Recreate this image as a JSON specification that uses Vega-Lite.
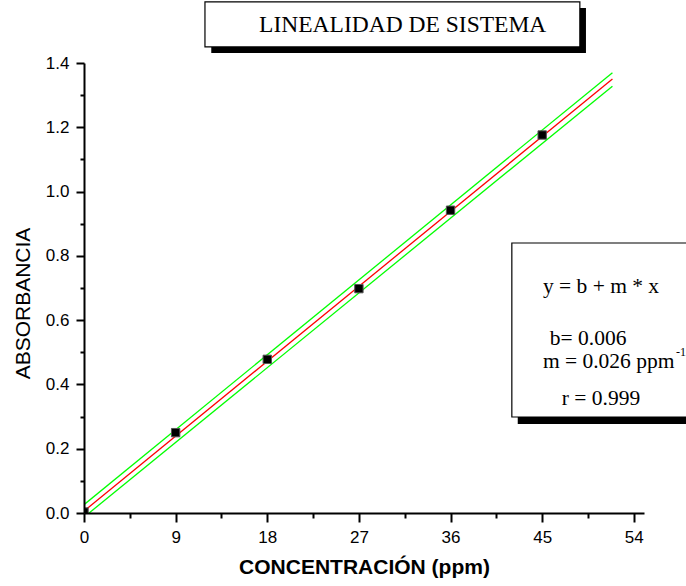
{
  "$schema": "https://vega.github.io/schema/vega-lite/v6.json",
  "width": 560,
  "height": 450,
  "autosize": "none",
  "padding": {"left": 84, "top": 63, "right": 42, "bottom": 73},
  "background": "white",
  "config": {"view": {"stroke": null}, "font": "Liberation Sans"},
  "datasets": {
    "points": [
      {"conc": 0, "abs": 0.003},
      {"conc": 9, "abs": 0.25},
      {"conc": 18, "abs": 0.478},
      {"conc": 27, "abs": 0.698},
      {"conc": 36, "abs": 0.942},
      {"conc": 45, "abs": 1.176}
    ],
    "lines": [
      {"conc": 0, "abs": 0.026, "band": "upper"},
      {"conc": 51.9, "abs": 1.37, "band": "upper"},
      {"conc": 0.5, "abs": 0.0, "band": "lower"},
      {"conc": 51.9, "abs": 1.328, "band": "lower"},
      {"conc": 0, "abs": 0.006, "band": "fit"},
      {"conc": 51.9, "abs": 1.35, "band": "fit"}
    ],
    "shadows": [
      {"x1": 12.5, "x2": 49.3, "y1": 1.571, "y2": 1.431},
      {"x1": 42.6, "x2": 62, "y1": 0.82, "y2": 0.277}
    ],
    "boxes": [
      {"x1": 11.88, "x2": 48.7, "y1": 1.59, "y2": 1.45},
      {"x1": 42.02, "x2": 62, "y1": 0.84, "y2": 0.2987}
    ],
    "title": [{"label": "LINEALIDAD DE SISTEMA", "x": 31.3, "y": 1.4966}],
    "legend": [
      {"label": "y = b + m * x", "x": 45.07, "y": 0.684},
      {"label": "b= 0.006", "x": 45.75, "y": 0.523},
      {"label": "m = 0.026 ppm", "x": 45.07, "y": 0.451},
      {"label": "r = 0.999", "x": 46.93, "y": 0.336}
    ],
    "sup": [{"label": "-1", "x": 58.15, "y": 0.487}]
  },
  "layer": [
    {
      "data": {"name": "lines"},
      "mark": {"type": "line", "strokeWidth": 1.3, "clip": true},
      "encoding": {
        "x": {
          "field": "conc", "type": "quantitative",
          "scale": {"domain": [0, 55], "nice": false, "zero": false},
          "axis": {
            "orient": "bottom",
            "values": [0, 9, 18, 27, 36, 45, 54],
            "title": "CONCENTRACIÓN (ppm)",
            "titleFont": "Liberation Sans", "titleFontSize": 21, "titleFontWeight": "bold",
            "titleColor": "black", "titlePadding": 11,
            "labelFont": "Liberation Sans", "labelFontSize": 17, "labelColor": "black",
            "labelPadding": 7, "labelFlush": false,
            "tickSize": 9, "tickWidth": 2, "tickColor": "black",
            "domainColor": "black", "domainWidth": 2,
            "grid": false, "zindex": 1
          }
        },
        "y": {
          "field": "abs", "type": "quantitative",
          "scale": {"domain": [0, 1.4], "nice": false, "zero": false},
          "axis": {
            "orient": "left",
            "values": [0, 0.2, 0.4, 0.6, 0.8, 1.0, 1.2, 1.4],
            "format": ".1f",
            "title": "ABSORBANCIA",
            "titleFont": "Liberation Sans", "titleFontSize": 21, "titleFontWeight": "normal",
            "titleColor": "black", "titlePadding": 12, "titleY": 240,
            "labelFont": "Liberation Sans", "labelFontSize": 17, "labelColor": "black",
            "labelPadding": 7, "labelFlush": false,
            "tickSize": 8, "tickWidth": 2, "tickColor": "black",
            "domainColor": "black", "domainWidth": 2,
            "grid": false, "zindex": 1
          }
        },
        "detail": {"field": "band"},
        "color": {
          "field": "band", "type": "nominal",
          "scale": {"domain": ["upper", "lower", "fit"], "range": ["#00ff00", "#00ff00", "#ff0000"]},
          "legend": null
        }
      }
    },
    {
      "data": {"name": "points"},
      "mark": {"type": "point", "shape": "square", "filled": true, "size": 70, "color": "black", "stroke": "#555555", "strokeWidth": 1, "opacity": 1, "clip": true},
      "encoding": {
        "x": {
          "field": "conc", "type": "quantitative",
          "axis": {
            "orient": "bottom",
            "values": [4.5, 13.5, 22.5, 31.5, 40.5, 49.5],
            "labels": false, "domain": false, "title": null,
            "tickSize": 5, "tickWidth": 2, "tickColor": "black",
            "grid": false, "zindex": 1
          }
        },
        "y": {
          "field": "abs", "type": "quantitative",
          "axis": {
            "orient": "left",
            "values": [0.1, 0.3, 0.5, 0.7, 0.9, 1.1, 1.3],
            "labels": false, "domain": false, "title": null,
            "tickSize": 4, "tickWidth": 2, "tickColor": "black",
            "grid": false, "zindex": 1
          }
        }
      }
    },
    {
      "data": {"name": "shadows"},
      "mark": {"type": "rect", "fill": "black", "clip": false},
      "encoding": {
        "x": {"field": "x1", "type": "quantitative", "axis": null},
        "x2": {"field": "x2"},
        "y": {"field": "y1", "type": "quantitative", "axis": null},
        "y2": {"field": "y2"}
      }
    },
    {
      "data": {"name": "boxes"},
      "mark": {"type": "rect", "fill": "white", "stroke": "black", "strokeWidth": 1.2, "clip": false},
      "encoding": {
        "x": {"field": "x1", "type": "quantitative", "axis": null},
        "x2": {"field": "x2"},
        "y": {"field": "y1", "type": "quantitative", "axis": null},
        "y2": {"field": "y2"}
      }
    },
    {
      "data": {"name": "title"},
      "mark": {"type": "text", "font": "Liberation Serif", "fontSize": 23.5, "align": "center", "baseline": "alphabetic", "color": "black"},
      "encoding": {
        "x": {"field": "x", "type": "quantitative", "axis": null},
        "y": {"field": "y", "type": "quantitative", "axis": null},
        "text": {"field": "label"}
      }
    },
    {
      "data": {"name": "legend"},
      "mark": {"type": "text", "font": "Liberation Serif", "fontSize": 21.5, "align": "left", "baseline": "alphabetic", "color": "black"},
      "encoding": {
        "x": {"field": "x", "type": "quantitative", "axis": null},
        "y": {"field": "y", "type": "quantitative", "axis": null},
        "text": {"field": "label"}
      }
    },
    {
      "data": {"name": "sup"},
      "mark": {"type": "text", "font": "Liberation Serif", "fontSize": 12, "align": "left", "baseline": "alphabetic", "color": "black"},
      "encoding": {
        "x": {"field": "x", "type": "quantitative", "axis": null},
        "y": {"field": "y", "type": "quantitative", "axis": null},
        "text": {"field": "label"}
      }
    }
  ],
  "resolve": {"axis": {"x": "independent", "y": "independent"}}
}
